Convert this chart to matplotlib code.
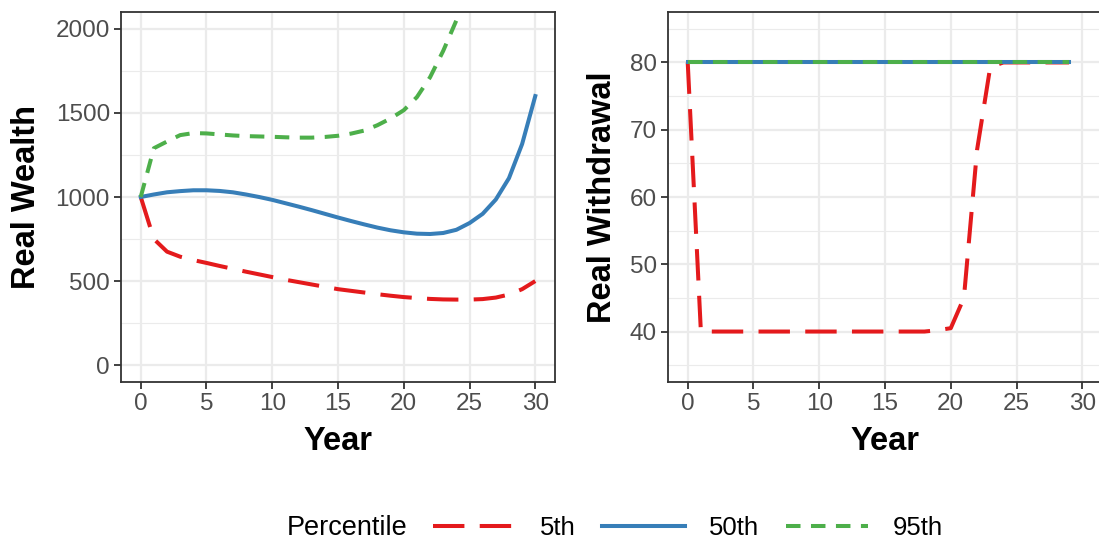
import numpy as np
from matplotlib import pyplot as plt
from matplotlib.lines import Line2D

plt.rcParams['font.family'] = ['Liberation Sans', 'DejaVu Sans']

# data
years_wealth = list(range(0, 31))
wealth_p5 = [1000, 750, 675, 645, 625, 608, 590, 573, 556, 540, 524, 508, 494, 480, 466,
             452, 442, 432, 422, 413, 405, 399, 394, 391, 390, 390, 393, 402, 420, 452, 500]
wealth_p50 = [1000, 1015, 1028, 1035, 1040, 1040, 1036, 1028, 1015, 1000, 983, 963, 943, 922, 900,
              878, 857, 837, 818, 802, 790, 782, 780, 786, 805, 845, 900, 985, 1112, 1315, 1600]
wealth_p95 = [1000, 1290, 1330, 1368, 1380, 1378, 1372, 1366, 1362, 1360, 1358, 1355, 1353, 1353, 1357,
              1364, 1377, 1395, 1427, 1467, 1516, 1594, 1712, 1869, 2050] + [np.nan] * 6

years_wd = list(range(0, 30))
wd_p5 = [80] + [40] * 18 + [40.2, 40.5, 45, 67, 79.3] + [80] * 6
wd_p50 = [80] * 30
wd_p95 = [80] * 30

labels = ['5th', '50th', '95th']
colors = ['#E41A1C', '#377EB8', '#4DAF4A']
styles = [(0, (7.8, 3.8)), '-', (0, (3.6, 2.6))]
LW = 2.9

fig = plt.figure(figsize=(10.99, 5.39), dpi=100)
W, H = 1099, 539

def make_ax(left, right, top, bottom):
    return fig.add_axes([left / W, 1 - bottom / H, (right - left) / W, (bottom - top) / H])

ax1 = make_ax(121, 555, 12, 382)
ax2 = make_ax(668, 1102, 12, 382)

for y, c, s in zip([wealth_p5, wealth_p50, wealth_p95], colors, styles):
    ax1.plot(years_wealth, y, color=c, linestyle=s, lw=LW, dash_capstyle='butt')
for y, c, s in zip([wd_p5, wd_p50, wd_p95], colors, styles):
    ax2.plot(years_wd, y, color=c, linestyle=s, lw=LW, dash_capstyle='butt')

ax1.set_xlim(-1.5, 31.5)
ax1.set_ylim(-100, 2100)
ax1.set_yticks([0, 500, 1000, 1500, 2000])
ax1.set_yticks([250, 750, 1250, 1750], minor=True)
ax2.set_xlim(-1.5, 31.5)
ax2.set_ylim(32.5, 87.5)
ax2.set_yticks([40, 50, 60, 70, 80])
ax2.set_yticks([35, 45, 55, 65, 75, 85], minor=True)

for ax, ylab, lx in [(ax1, 'Real Wealth', -0.218), (ax2, 'Real Withdrawal', -0.152)]:
    ax.set_xticks([0, 5, 10, 15, 20, 25, 30])
    ax.grid(which='major', color='#EBEBEB', lw=1.6)
    ax.grid(which='minor', axis='y', color='#EBEBEB', lw=0.8)
    ax.set_axisbelow(True)
    for sp in ax.spines.values():
        sp.set_color('#333333')
        sp.set_linewidth(1.3)
    ax.tick_params(which='major', length=5, width=1.3, color='#333333',
                   labelcolor='#4D4D4D', labelsize=17.5, pad=3)
    ax.tick_params(which='minor', length=0)
    ax.set_xlabel('Year', fontsize=23.5, fontweight='bold')
    ax.set_ylabel(ylab, fontsize=23.5, fontweight='bold')
    ax.xaxis.set_label_coords(0.5, -0.16)
    ax.xaxis.label.set_va('center')
    ax.yaxis.set_label_coords(lx, 0.5)
    ax.yaxis.label.set_va('center')

# legend at the bottom
fig.text(287 / W, 1 - 528 / H, 'Percentile', fontsize=19.5, va='center', ha='left')
handles = [Line2D([], [], color=c, linestyle=s, lw=LW, dash_capstyle='butt') for c, s in zip(colors, styles)]
fig.legend(handles, labels, loc='center left', bbox_to_anchor=(433 / W, 1 - 528 / H),
           ncol=3, frameon=False, fontsize=18.5, handlelength=3.2, handletextpad=0.95,
           columnspacing=1.05, borderpad=0, borderaxespad=0)

plt.savefig('out.png', dpi=100)
